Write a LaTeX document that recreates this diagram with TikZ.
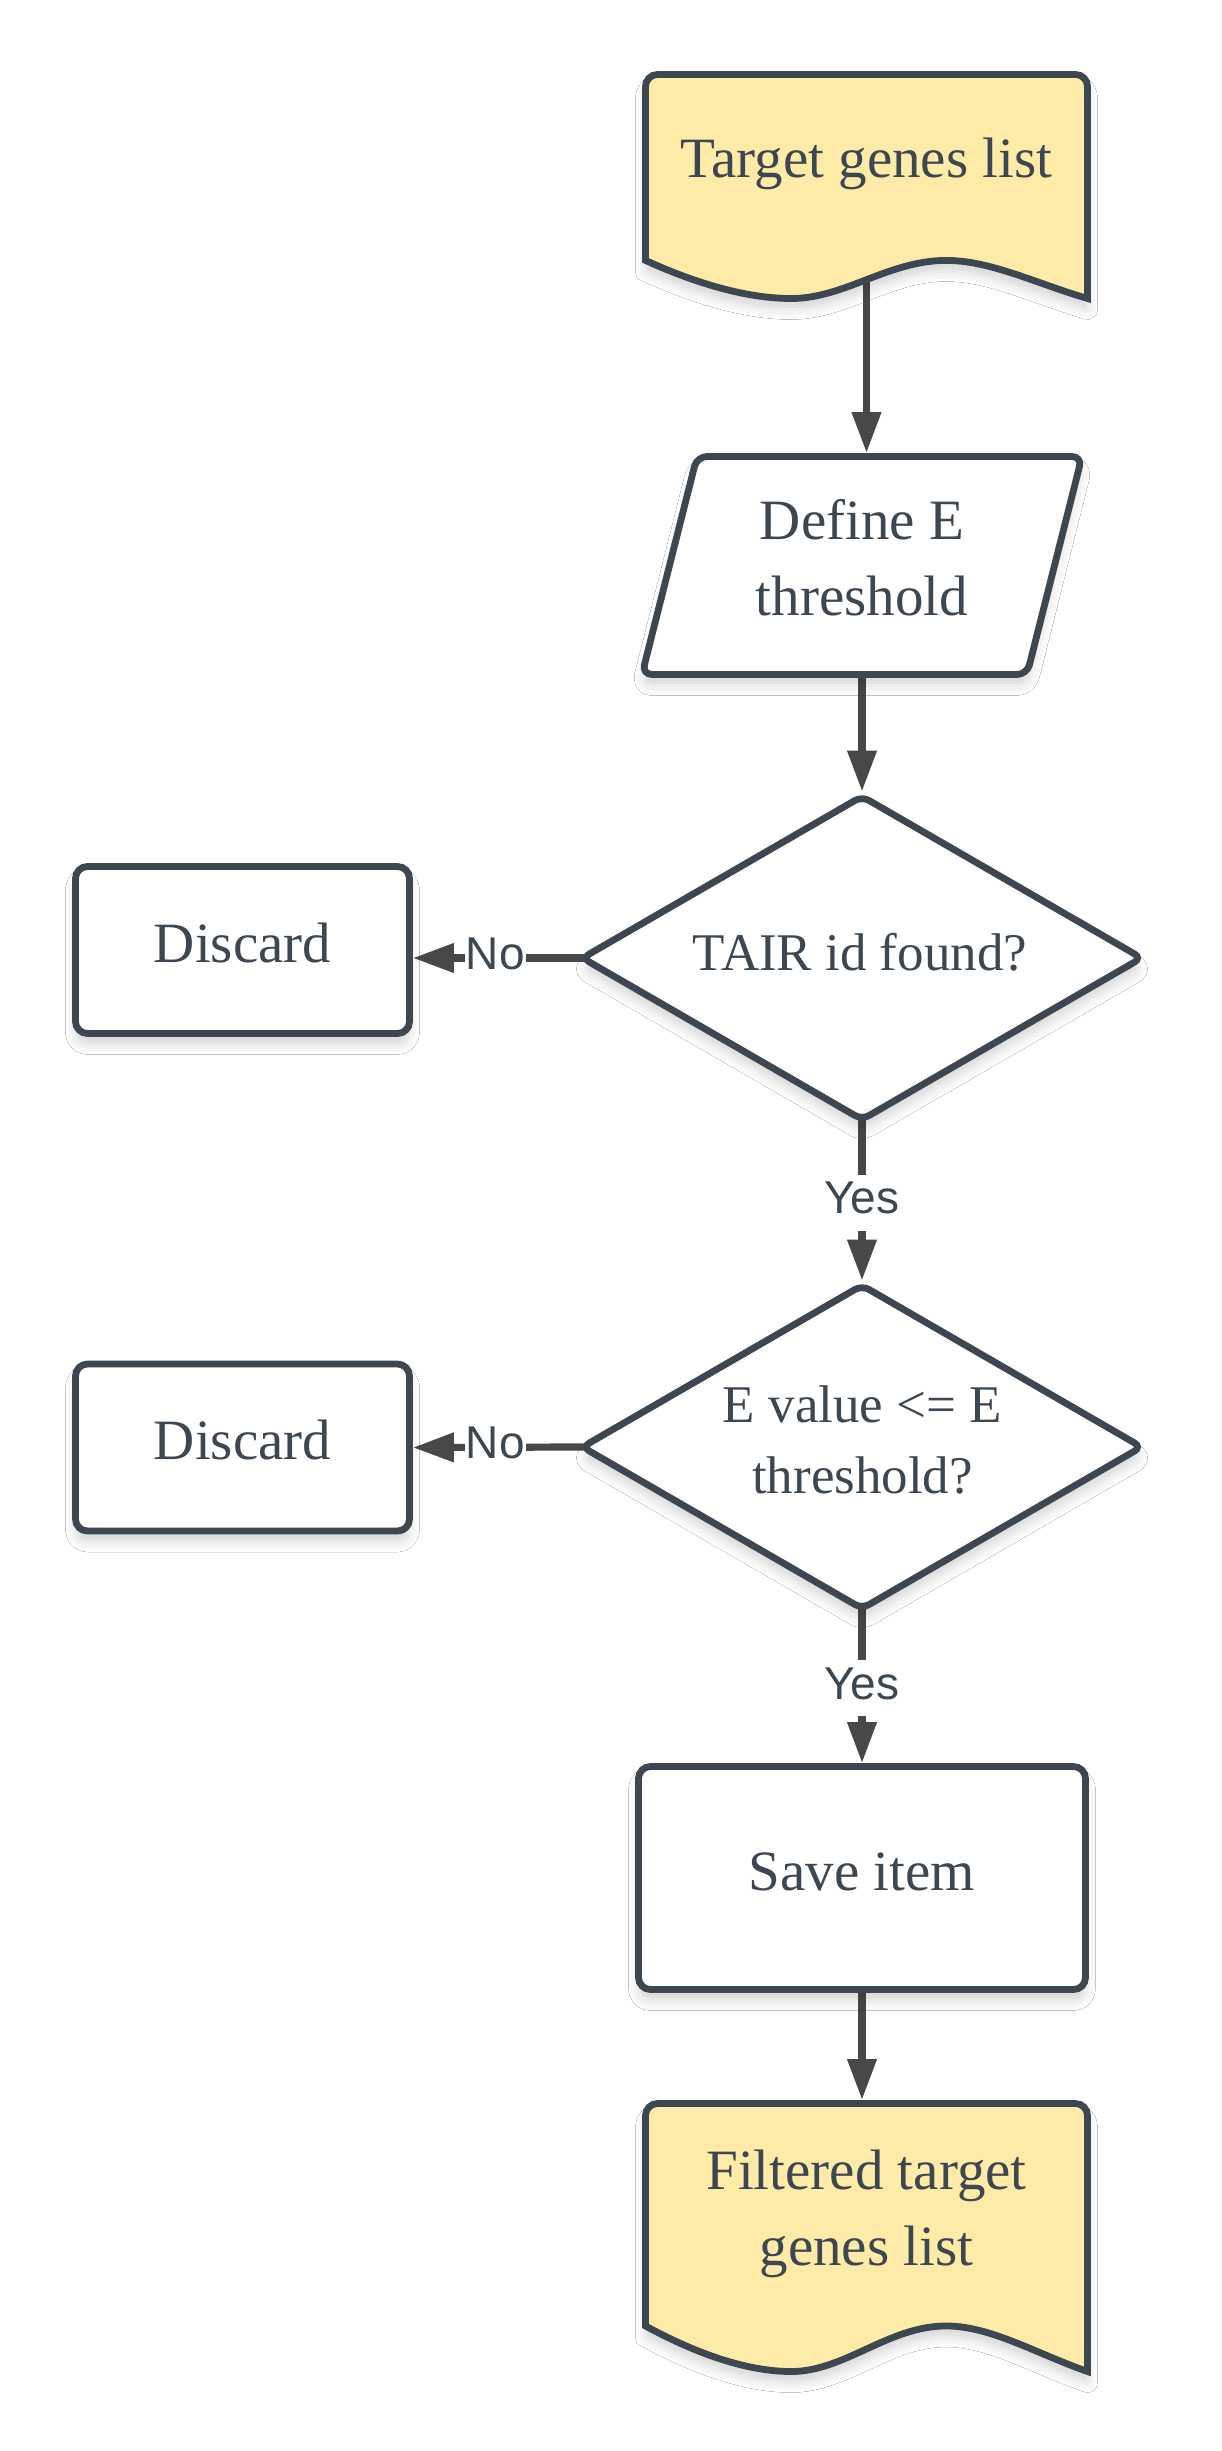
\documentclass[tikz,border=0pt]{standalone}
\usepackage{fontspec}
\setmainfont{Liberation Serif}
\newfontfamily\lblfont{Liberation Sans}
\usetikzlibrary{shapes.geometric,arrows.meta,shadows.blur}
\definecolor{shapeline}{HTML}{3D4752}
\definecolor{connclr}{HTML}{484848}
\definecolor{docfill}{HTML}{FFEBA8}
\definecolor{txtclr}{HTML}{3D4752}
\pgfdeclarelayer{bg}
\pgfsetlayers{bg,main}
\tikzset{
  softshadow/.style={blur shadow={shadow xshift=0pt,shadow yshift=-5.5pt,shadow blur radius=5pt,shadow opacity=16}},
  outline/.style={draw=shapeline,line width=3.4pt},
  procbox/.style={outline,fill=white,rounded corners=6pt,inner sep=0pt,softshadow,
    font=\fontsize{28.5}{38}\selectfont,text=txtclr,text height=20pt,text depth=8pt},
  decision/.style={diamond,outline,fill=white,rounded corners=4pt,inner sep=0pt,
    minimum width=281pt,minimum height=163pt,softshadow},
  ioshape/.style={outline,fill=white,rounded corners=5pt,softshadow},
  anchorbox/.style={inner sep=0pt,outer sep=0pt},
  docshape/.style={outline,fill=docfill,softshadow},
  maintext/.style={font=\fontsize{28.5}{38}\selectfont,text=txtclr,align=center,inner sep=0pt},
  dectext/.style={font=\fontsize{26.5}{35.5}\selectfont,text=txtclr,align=center,inner sep=0pt},
  lbl/.style={font=\lblfont\fontsize{23}{27}\selectfont,text=txtclr,fill=white,
    inner xsep=0.5pt,inner ysep=2.5pt,text height=17pt,text depth=6pt},
  arrowline/.style={draw=connclr,line width=3.6pt,-{Triangle[length=20.5pt,width=14pt]}},
}
\begin{document}
\begin{tikzpicture}[x=0.5pt,y=-0.5pt]
\useasboundingbox (0,0) rectangle (1221,2451);

% document shapes
\begin{scope}[shift={(645.5,74.5)},x=221pt,y=-112pt]
  \draw[docshape] (0.3,0) {[rounded corners=6pt] -- (1,0) -- (1,0.5)} -- (1,1)
    .. controls (0.88,0.93) and (0.78,0.83) .. (0.68,0.83)
    .. controls (0.55,0.83) and (0.45,1) .. (0.33,1)
    .. controls (0.22,1) and (0.1,0.92) .. (0,0.83)
    {[rounded corners=6pt] -- (0,0) -- cycle};
\end{scope}
\begin{scope}[shift={(645.5,2103.5)},x=221pt,y=-134pt]
  \draw[docshape] (0.3,0) {[rounded corners=6pt] -- (1,0) -- (1,0.5)} -- (1,1)
    .. controls (0.88,0.93) and (0.78,0.83) .. (0.68,0.83)
    .. controls (0.55,0.83) and (0.45,1) .. (0.33,1)
    .. controls (0.22,1) and (0.1,0.92) .. (0,0.83)
    {[rounded corners=6pt] -- (0,0) -- cycle};
\end{scope}

\node[maintext,anchor=base] (doc1) at (866.5,178) {Target genes list};
\coordinate (doc1out) at (866.5,270);

% parallelogram (input)
\draw[ioshape] (834.5,674.5) -- (642,674.5) -- (697,456.5) -- (1082,456.5) -- (1027,674.5) -- cycle;
\node[anchorbox,minimum width=220pt,minimum height=112.5pt] (para) at (862,565.5) {};
\node[maintext] (paratext) at (862,557.5) {Define E\\threshold};

\node[decision] (d1) at (862,958) {};
\node[dectext,anchor=base] (d1text) at (860,970) {TAIR id found?};
\node[procbox,minimum width=167pt,minimum height=83.5pt] (disc1) at (242.5,950) {Discard};

\node[decision] (d2) at (862,1447) {};
\node[dectext] (d2text) at (862.5,1439.5) {E value <= E\\threshold?};
\node[procbox,minimum width=167pt,minimum height=83.5pt] (disc2) at (242.5,1447.5) {Discard};

\node[procbox,minimum width=223.5pt,minimum height=111.5pt] (save) at (862,1878) {Save item};

\node[maintext] (doc2) at (866.5,2213.7) {Filtered target\\genes list};
\coordinate (doc2in) at (866.5,2100);

\begin{pgfonlayer}{bg}
  \fill[white] (0,0) rectangle (1221,2451);
  \draw[arrowline] (doc1out) -- (doc1out |- para.north);
  \draw[arrowline,shorten <=-6pt] (para.south) -- (d1.north);
  \draw[arrowline,shorten <=-10pt] (d1.west) -- (d1.west -| disc1.east) node[lbl,midway] {No};
  \draw[arrowline,shorten <=-10pt] (d1.south) -- (d2.north) node[lbl,midway] {Yes};
  \draw[arrowline,shorten <=-10pt] (d2.west) -- (disc2.east) node[lbl,midway] {No};
  \draw[arrowline,shorten <=-10pt] (d2.south) -- (save.north) node[lbl,midway] {Yes};
  \draw[arrowline,shorten <=-6pt] (save.south) -- (save.south |- doc2in);
\end{pgfonlayer}
\end{tikzpicture}
\end{document}
